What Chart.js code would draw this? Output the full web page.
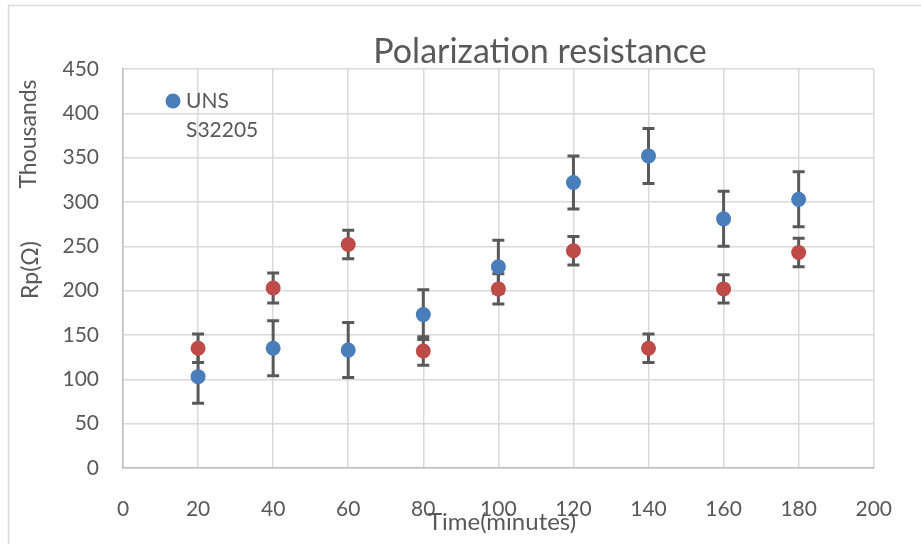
<!DOCTYPE html>
<html>
<head>
<meta charset="utf-8">
<script src="https://cdn.jsdelivr.net/npm/chart.js@4/dist/chart.umd.min.js"></script>
<style>
  html, body { margin: 0; padding: 0; background: #ffffff; }
  #wrap { position: relative; width: 921px; height: 544px; overflow: hidden; }
</style>
</head>
<body>
<div id="wrap"><canvas id="chart" width="921" height="544"></canvas></div>
<script>
// time in minutes
const timeMinutes = [20, 40, 60, 80, 100, 120, 140, 160, 180];

// Rp in thousands of ohms
const blueSeries = [103, 135, 133, 173, 227, 322, 352, 281, 303];
const blueError = [30, 31, 31, 28, 30, 30, 31, 31, 31];
const redSeries = [135, 203, 252, 132, 202, 245, 135, 202, 243];
const redError = [16, 17, 16, 16, 17, 16, 16, 16, 16];

const blueLabel = ["UNS", "S32205"];
const chartTitle = "Polarization resistance";
const xTitle = "Time(minutes)";
const yTitle = "Rp(Ω)";
const yUnitLabel = "Thousands";

const FONT = "Lato, \"Open Sans\", sans-serif";
const TEXT_COLOR = "#595959";
const BLUE = "#4a7ebb";
const RED = "#be4b48";

function toPoints(values) {
  return timeMinutes.map((x, i) => ({ x, y: values[i] }));
}

const errorBarPlugin = {
  id: "errorBars",
  beforeDatasetsDraw(chart) {
    const { ctx } = chart;
    const xs = chart.scales.x;
    const ys = chart.scales.y;
    const sets = [[blueSeries, blueError], [redSeries, redError]];
    ctx.save();
    ctx.strokeStyle = "#595959";
    ctx.lineWidth = 3;
    sets.forEach(([values, errors]) => {
      values.forEach((v, i) => {
        const px = xs.getPixelForValue(timeMinutes[i]);
        const top = ys.getPixelForValue(v + errors[i]);
        const bottom = ys.getPixelForValue(v - errors[i]);
        ctx.beginPath();
        ctx.moveTo(px, top);
        ctx.lineTo(px, bottom);
        ctx.moveTo(px - 6, top);
        ctx.lineTo(px + 6, top);
        ctx.moveTo(px - 6, bottom);
        ctx.lineTo(px + 6, bottom);
        ctx.stroke();
      });
    });
    ctx.restore();
  }
};

const decorPlugin = {
  id: "decor",
  beforeDraw(chart) {
    const { ctx } = chart;
    ctx.save();
    ctx.strokeStyle = "#d9d9d9";
    ctx.lineWidth = 1.5;
    ctx.strokeRect(8.5, 5.5, 1200, 1200);
    ctx.restore();
  },
  afterDraw(chart) {
    const { ctx } = chart;
    ctx.save();
    ctx.fillStyle = TEXT_COLOR;

    ctx.font = "34px " + FONT;
    ctx.textAlign = "center";
    ctx.textBaseline = "alphabetic";
    ctx.fillText(chartTitle, 540, 63);

    ctx.font = "24px " + FONT;
    ctx.fillText(xTitle, 502, 530);

    ctx.font = "23px " + FONT;
    ctx.save();
    ctx.translate(38, 270);
    ctx.rotate(-Math.PI / 2);
    ctx.fillText(yTitle, 0, 0);
    ctx.restore();

    ctx.save();
    ctx.translate(36, 134);
    ctx.rotate(-Math.PI / 2);
    ctx.fillText(yUnitLabel, 0, 0);
    ctx.restore();

    // legend (only the first series is shown in the source)
    ctx.fillStyle = BLUE;
    ctx.beginPath();
    ctx.arc(173, 101, 7.5, 0, Math.PI * 2);
    ctx.fill();
    ctx.fillStyle = TEXT_COLOR;
    ctx.font = "21px " + FONT;
    ctx.textAlign = "left";
    ctx.fillText(blueLabel[0], 186, 108);
    ctx.fillText(blueLabel[1], 186, 137);
    ctx.restore();
  }
};

new Chart(document.getElementById("chart"), {
  type: "scatter",
  data: {
    datasets: [
      {
        label: blueLabel.join(" "),
        data: toPoints(blueSeries),
        backgroundColor: BLUE,
        borderColor: BLUE,
        pointRadius: 7.5,
        borderWidth: 0
      },
      {
        label: "",
        data: toPoints(redSeries),
        backgroundColor: RED,
        borderColor: RED,
        pointRadius: 7.5,
        borderWidth: 0
      }
    ]
  },
  options: {
    responsive: false,
    animation: false,
    layout: { padding: { left: 0, right: 40, top: 69, bottom: 0 } },
    plugins: {
      legend: { display: false },
      title: { display: false },
      tooltip: { enabled: false }
    },
    scales: {
      x: {
        type: "linear",
        min: 0,
        max: 200,
        afterFit(scale) { scale.height = 76; },
        ticks: {
          stepSize: 20,
          color: TEXT_COLOR,
          padding: 29,
          maxRotation: 0,
          font: { family: FONT, size: 21 }
        },
        grid: { color: "#d9d9d9", lineWidth: 1.5, drawTicks: false },
        border: { color: "#bfbfbf", width: 1.5 }
      },
      y: {
        min: 0,
        max: 450,
        afterFit(scale) { scale.width = 123; },
        ticks: {
          stepSize: 50,
          color: TEXT_COLOR,
          padding: 24,
          font: { family: FONT, size: 21 }
        },
        grid: { color: "#d9d9d9", lineWidth: 1.5, drawTicks: false },
        border: { color: "#bfbfbf", width: 1.5 }
      }
    }
  },
  plugins: [errorBarPlugin, decorPlugin]
});
</script>
</body>
</html>
